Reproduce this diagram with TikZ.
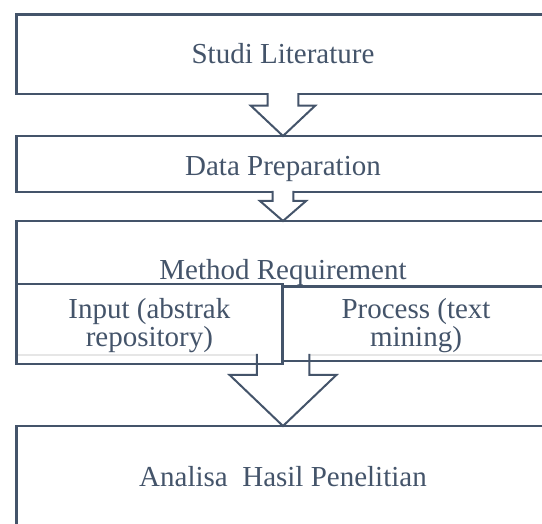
\documentclass[tikz,border=0pt]{standalone}
\usepackage{fontspec}
\setmainfont{Liberation Serif}
\usetikzlibrary{calc}
\definecolor{slate}{HTML}{44546A}
\definecolor{faint}{HTML}{E6E6E6}
\newcommand\BlkArrow[5]{%
  \path[fill=white] ($(#1)+(-#3,-1.4)$) -- ($(#1)+(-#3,#5)$) -- ($(#1)+(-#4,#5)$) -- (#2)
    -- ($(#1)+(#4,#5)$) -- ($(#1)+(#3,#5)$) -- ($(#1)+(#3,-1.4)$) -- cycle;
  \draw[blockarrow] ($(#1)+(-#3,-1.2)$) -- ($(#1)+(-#3,#5)$) -- ($(#1)+(-#4,#5)$) -- (#2)
    -- ($(#1)+(#4,#5)$) -- ($(#1)+(#3,#5)$) -- ($(#1)+(#3,-1.2)$);}
\begin{document}
\begin{tikzpicture}[x=1pt,y=-1pt,
  box/.style={draw=slate, line width=2.4pt, inner sep=0pt, outer sep=0pt, anchor=north west},
  lbl/.style={text=slate, font=\fontsize{29}{28}\selectfont, inner sep=0pt, anchor=base},
  blockarrow/.style={draw=slate, line width=2pt, line join=miter}]
\useasboundingbox (0,0) rectangle (542,524);
\clip (0,0) rectangle (542,524);
\fill[white] (0,0) rectangle (542,524);
% main boxes
\node[box, minimum width=533pt, minimum height=79.8pt] (b1) at (16.5,14.5) {};
\node[box, minimum width=533pt, minimum height=56pt] (b2) at (16.5,136) {};
\node[inner sep=0pt, outer sep=0pt, anchor=north west, minimum width=533pt, minimum height=134pt] (b3) at (16.5,221) {};
\draw[slate, line width=2.4pt, line join=miter] (b3.south west) -- (b3.north west) -- (b3.north east);
\node[box, minimum width=533pt, minimum height=130pt] (b4) at (16.5,426) {};
% faint bottom of method box
\coordinate (a3l) at ($(b3.south)+(-26.25,0)$);
\coordinate (a3r) at ($(b3.south)+(26.25,0)$);
\draw[faint, line width=1.5pt] (b3.south west) -- (a3l);
\draw[faint, line width=1.5pt] (a3r) -- (b3.south east);
% arrow 3
\BlkArrow{b3.south}{b4.north}{26.25}{53.35}{20}
% sub boxes
\node[box, minimum width=265.8pt, minimum height=80pt] (in) at (16.5,284.3) {};
\node[box, minimum width=267.2pt, minimum height=74.3pt] (pr) at (282.3,286.7) {};
% arrows 1 and 2
\BlkArrow{b1.south}{b2.north}{15.35}{32.15}{11.4}
\BlkArrow{b2.south}{b3.north}{10.3}{23}{9}
% labels
\node[lbl] (t1) at (283,63.3) {Studi Literature};
\node[lbl] (t2) at (283,176) {Data Preparation};
\node[lbl] (t3) at (283,280) {Method Requirement};
\node[lbl] (t4a) at (149.4,319) {Input (abstrak};
\node[lbl] (t4b) at (149.4,347) {repository)};
\node[lbl] (t5a) at (416,319) {Process (text};
\node[lbl] (t5b) at (416,347) {mining)};
\node[lbl] (t6) at (283,486.7) {Analisa\ \ Hasil Penelitian};
\end{tikzpicture}
\end{document}
